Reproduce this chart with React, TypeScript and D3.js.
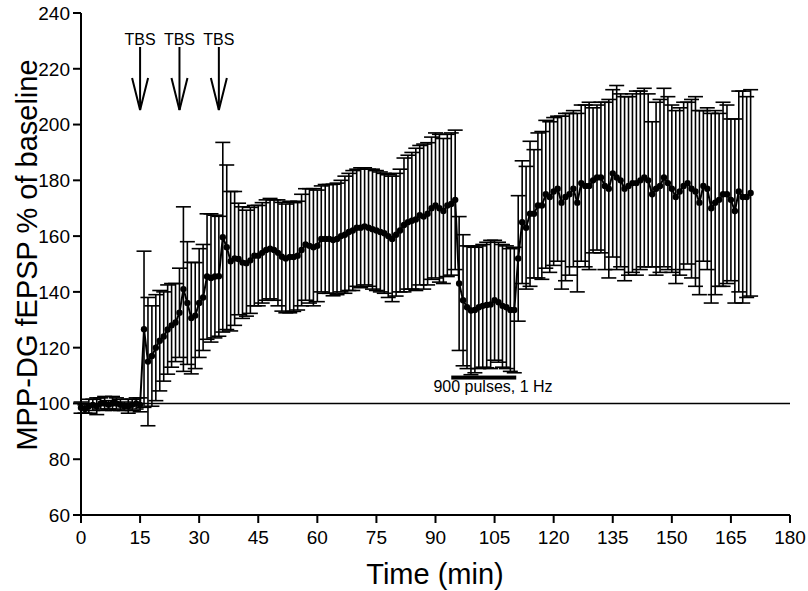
import React from "react";
import * as d3 from "d3";

// mean fEPSP (% of baseline), one value per minute starting at 0 min
const meanValues: number[] = [
  98.5, 98, 99, 99.5, 99, 100, 100, 99.5, 100, 100, 99.5, 99, 99, 99.5, 100, 99.5,
  126.6, 115, 117, 120, 122.5, 124, 126.5, 128, 129, 132.5,
  141, 136, 130.6, 131.5, 136, 138, 145.5, 145, 145.5, 145.6,
  159.6, 156, 151, 152, 151.8, 150.5, 150.3, 151.3, 153, 153,
  154, 155, 155.5, 155, 154, 152.6, 152, 152.5, 152.5, 153,
  155, 157, 156.5, 156, 156.5, 159, 159, 159, 158.6, 159,
  160, 160.5, 161.5, 162, 163, 163, 163.5, 163, 162.5, 162,
  161.5, 161, 160, 159, 160.5, 162, 164, 165, 165.5, 166,
  167.5, 167, 168, 170, 171, 170, 169, 171, 171.5, 173,
  143, 137, 134.5, 133.3, 133.5, 134.5, 135, 135.3, 135.5, 137,
  136.3, 135, 134.5, 133.5, 133.5, 152, 165, 163, 168, 168,
  171, 171, 175, 174, 176, 177, 172, 174, 175, 177,
  172, 179, 178, 178, 180, 181, 181, 178, 177, 182.5,
  181, 180, 177, 178, 179, 179, 180, 181, 180, 175,
  177, 178, 181, 179, 177, 174, 176, 178, 179, 177,
  176, 172, 178, 177, 170, 172, 173, 175, 175, 173,
  169, 176, 174, 174, 175.5,
];

// SEM for each minute
const semValues: number[] = [
  2, 1.5, 2.5, 2, 3, 2, 2.5, 1.5, 2.5, 2, 2, 1.5, 2.5, 2, 2, 2.5,
  28, 23, 18, 19, 18, 16, 16, 15, 14, 16,
  29.5, 22, 20, 19, 19.5, 19, 22.5, 23, 22, 21.5,
  34, 29.5, 25, 24, 20, 20, 19, 19, 18, 18,
  18, 18, 18, 18, 19, 19.5, 19.5, 20, 19.5, 19.5,
  20, 20, 20.5, 21, 20, 19, 19.5, 19.5, 20, 20,
  20, 21, 21, 21.5, 21, 21.5, 21, 21, 21.5, 21.5,
  21.5, 21.5, 22, 22.5, 22, 22, 24, 24, 24.5, 25.5,
  25, 26, 25.5, 25.5, 26, 26.5, 26, 25.5, 25.5, 25,
  24, 23.5, 22, 23, 22.5, 22, 22, 22.5, 23, 21.5,
  21.5, 22, 22, 22, 22.5, 22.5, 22, 22, 26, 23,
  26, 26.5, 26.5, 27, 26.5, 26, 31, 30, 29, 28,
  32, 28, 29, 30, 26, 26, 27, 30, 32, 30,
  33, 31, 33, 32, 32, 33, 32, 32, 31, 26,
  31, 31, 32, 31, 30, 31, 30, 30, 29, 32,
  34, 33, 27, 29, 34, 33, 31, 33, 32, 29,
  33, 36, 38, 36, 37,
];

const xTicks: number[] = [0, 15, 30, 45, 60, 75, 90, 105, 120, 135, 150, 165, 180];
const yTicks: number[] = [60, 80, 100, 120, 140, 160, 180, 200, 220, 240];
const tbsTimes: number[] = [15, 25, 35];
const lfsStart = 94;
const lfsEnd = 110.5;
const lfsBarLevel = 110;
const baselineValue = 100;

const FONT = "'Liberation Sans', Arial, sans-serif";

export default function App() {
  const W = 808;
  const H = 591;
  const x = d3.scaleLinear().domain([0, 180]).range([81, 790]);
  const y = d3.scaleLinear().domain([60, 240]).range([515, 13]);

  const pts = meanValues.map((m, i) => ({ t: i, m, s: semValues[i] }));
  const line = d3
    .line<{ t: number; m: number }>()
    .x((d) => x(d.t))
    .y((d) => y(d.m));

  const capHalf = 7.5;

  return (
    <svg
      width={W}
      height={H}
      style={{ position: "absolute", left: 0, top: 0, background: "#fff" }}
      fontFamily={FONT}
    >
      <rect x={0} y={0} width={W} height={H} fill="#fff" />

      {/* baseline reference line */}
      <line
        x1={x(0)}
        x2={x(180)}
        y1={y(baselineValue)}
        y2={y(baselineValue)}
        stroke="#000"
        strokeWidth={1.5}
      />

      {/* error bars */}
      <g stroke="#000" strokeWidth={1.6}>
        {pts.map((d) => {
          const cx = x(d.t);
          const top = y(d.m + d.s);
          const bot = y(d.m - d.s);
          return (
            <g key={"e" + d.t}>
              <line x1={cx} x2={cx} y1={top} y2={bot} />
              <line x1={cx - capHalf} x2={cx + capHalf} y1={top} y2={top} />
              <line x1={cx - capHalf} x2={cx + capHalf} y1={bot} y2={bot} />
            </g>
          );
        })}
      </g>

      {/* mean line */}
      <path d={line(pts) || ""} fill="none" stroke="#000" strokeWidth={2} />
      {pts.map((d) => (
        <circle key={"p" + d.t} cx={x(d.t)} cy={y(d.m)} r={3.2} fill="#000" />
      ))}

      {/* LFS bar and label */}
      <rect
        x={x(lfsStart)}
        y={y(lfsBarLevel)}
        width={x(lfsEnd) - x(lfsStart)}
        height={4}
        fill="#000"
      />
      <text x={493} y={392} fontSize={16} textAnchor="middle" fill="#000">
        900 pulses, 1 Hz
      </text>

      {/* TBS arrows */}
      {tbsTimes.map((t) => {
        const ax = x(t);
        return (
          <g key={"tbs" + t}>
            <text x={ax} y={45} fontSize={16} textAnchor="middle" fill="#000">
              TBS
            </text>
            <line x1={ax} x2={ax} y1={47} y2={110} stroke="#000" strokeWidth={2} />
            <polyline
              points={`${ax - 8},${78} ${ax},${110} ${ax + 8},${78}`}
              fill="none"
              stroke="#000"
              strokeWidth={2}
            />
          </g>
        );
      })}

      {/* axes */}
      <line x1={81} x2={81} y1={y(240)} y2={y(60)} stroke="#000" strokeWidth={2} />
      <line x1={x(0)} x2={x(180)} y1={515} y2={515} stroke="#000" strokeWidth={2} />
      {yTicks.map((v) => (
        <g key={"yt" + v}>
          <line x1={73} x2={81} y1={y(v)} y2={y(v)} stroke="#000" strokeWidth={2} />
          <text
            x={70}
            y={y(v)}
            dy="0.36em"
            fontSize={19}
            textAnchor="end"
            fill="#000"
          >
            {v}
          </text>
        </g>
      ))}
      {xTicks.map((v) => (
        <g key={"xt" + v}>
          <line x1={x(v)} x2={x(v)} y1={515} y2={523} stroke="#000" strokeWidth={2} />
          <text x={x(v)} y={544} fontSize={19} textAnchor="middle" fill="#000">
            {v}
          </text>
        </g>
      ))}

      <text x={435} y={584} fontSize={29} textAnchor="middle" fill="#000">
        Time (min)
      </text>
      <text
        transform={`translate(37,${255}) rotate(-90)`}
        fontSize={29}
        textAnchor="middle"
        fill="#000"
      >
        MPP-DG fEPSP % of baseline
      </text>
    </svg>
  );
}
